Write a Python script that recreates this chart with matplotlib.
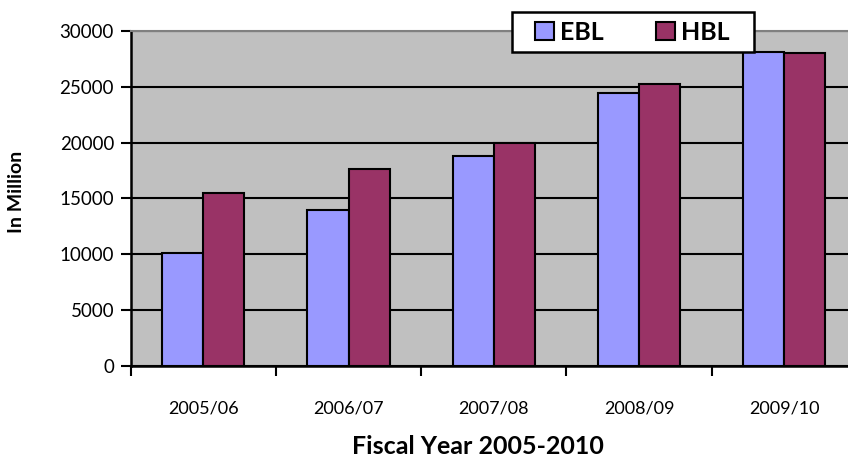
import matplotlib
matplotlib.use('Agg')
import matplotlib.pyplot as plt
from matplotlib.patches import Rectangle
import numpy as np

plt.rcParams['font.family'] = ['Lato', 'DejaVu Sans']

years = ['2005/06', '2006/07', '2007/08', '2008/09', '2009/10']
ebl = [10100, 14000, 18800, 24400, 28150]
hbl = [15450, 17650, 19950, 25250, 28000]
yticks = [0, 5000, 10000, 15000, 20000, 25000, 30000]

W, H = 848, 463
fig = plt.figure(figsize=(W / 100, H / 100), dpi=100)
# plot area runs a little past the right edge of the image
x0, x1, ytop, ybot = 130.7, 857.0, 31.0, 365.7
ax = fig.add_axes([x0 / W, 1 - ybot / H, (x1 - x0) / W, (ybot - ytop) / H])
ax.set_facecolor('#C0C0C0')

x = np.arange(len(years))
bw = 0.283
ax.bar(x - bw / 2, ebl, bw, color='#9999FF', edgecolor='black', linewidth=1.5, label='EBL', zorder=3)
ax.bar(x + bw / 2, hbl, bw, color='#993366', edgecolor='black', linewidth=1.5, label='HBL', zorder=3)

ax.set_xlim(-0.5, len(years) - 0.5)
ax.set_ylim(0, 30000)
ax.set_yticks(yticks)
ax.yaxis.grid(True, color='black', linewidth=1.5, zorder=1)
ax.set_axisbelow(True)

ax.set_xticks(np.arange(len(years) + 1) - 0.5)
ax.set_xticklabels([])
ax.set_xticks(x, minor=True)
ax.set_xticklabels(years, minor=True, fontsize=13)
ax.tick_params(axis='x', which='major', direction='out', length=7, width=1.5, color='black')
ax.tick_params(axis='x', which='minor', length=0, pad=25)
ax.tick_params(axis='y', direction='out', length=7, width=1.5, labelsize=13.5, pad=5)

ax.spines['left'].set_linewidth(1.8)
ax.spines['bottom'].set_linewidth(1.8)
ax.spines['top'].set_color('#808080')
ax.spines['top'].set_linewidth(1.5)
ax.spines['right'].set_visible(False)

fig.text(478 / W, 1 - 447 / H, 'Fiscal Year 2005-2010', ha='center', va='center',
         fontsize=18, fontweight='bold')
fig.text(17 / W, 1 - 192 / H, 'In Million', ha='center', va='center', rotation=90,
         fontsize=14, fontweight='bold')

# legend box: white frame drawn separately, entries placed inside it
box = Rectangle((511.7 / W, 1 - 52.3 / H), (754 - 511.7) / W, (52.3 - 11.7) / H,
                transform=fig.transFigure, facecolor='white', edgecolor='black',
                linewidth=1.8, zorder=9)
fig.patches.append(box)
leg = fig.legend(loc='center left', bbox_to_anchor=(535 / W, 1 - 32 / H), ncol=2,
                 frameon=False, prop={'weight': 'bold', 'size': 18},
                 handlelength=0.75, handleheight=0.75, handletextpad=0.25,
                 columnspacing=2.1, borderpad=0, borderaxespad=0)
leg.set_zorder(10)

fig.savefig('out.png', dpi=100)
